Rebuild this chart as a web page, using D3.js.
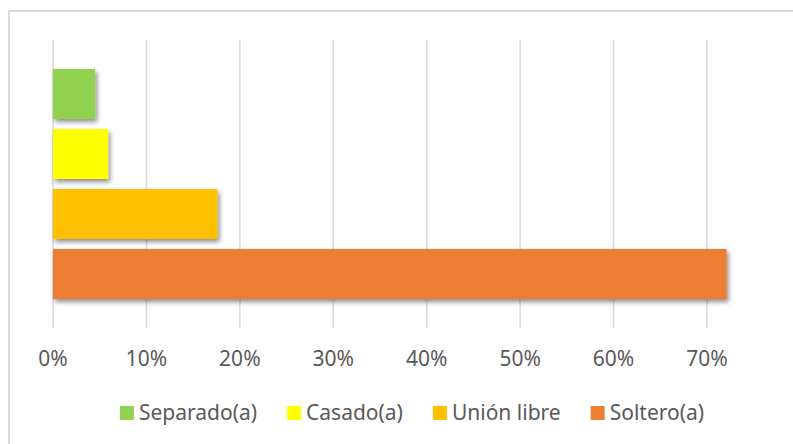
<!DOCTYPE html>
<html>
<head>
<meta charset="utf-8">
<script src="https://cdn.jsdelivr.net/npm/d3@7"></script>
<style>
  body { margin: 0; background: #fff; }
  text { font-family: "Noto Sans", "Open Sans", sans-serif; fill: #595959; }
</style>
</head>
<body>
<div id="chart"></div>
<script>
// series (top to bottom), values in percent
const categories = ["Separado(a)", "Casado(a)", "Unión libre", "Soltero(a)"]
const values = [4.5, 5.9, 17.6, 72.1]
const colors = ["#92d050", "#ffff00", "#ffc000", "#ed7d31"]
const x_ticks = [0, 10, 20, 30, 40, 50, 60, 70]

const width = 793
const height = 444

const svg = d3.select('#chart')
    .append('svg')
    .attr('width', width)
    .attr('height', height)

// drop shadow like the office chart
const defs = svg.append('defs')
defs.append('filter')
    .attr('id', 'shadow')
    .attr('x', '-10%').attr('y', '-20%')
    .attr('width', '130%').attr('height', '160%')
    .append('feDropShadow')
    .attr('dx', 2).attr('dy', 3)
    .attr('stdDeviation', 2.5)
    .attr('flood-color', '#000')
    .attr('flood-opacity', 0.45)

// chart border
svg.append('rect')
    .attr('x', 9).attr('y', 11)
    .attr('width', 800).attr('height', 450)
    .attr('fill', 'none')
    .attr('stroke', '#d9d9d9')
    .attr('stroke-width', 2)

const x = d3.scaleLinear()
    .domain([0, 70])
    .range([53, 707])

const y = d3.scaleBand()
    .domain(categories)
    .range([64, 304])
    .paddingInner(1 / 6)
    .paddingOuter(1 / 12)

const grid_top = 40
const grid_bottom = 328

svg.append('g')
    .selectAll('line')
    .data(x_ticks)
    .enter()
    .append('line')
    .attr('x1', d => x(d))
    .attr('x2', d => x(d))
    .attr('y1', grid_top)
    .attr('y2', grid_bottom)
    .attr('stroke', '#d9d9d9')
    .attr('stroke-width', 1.5)

svg.append('g')
    .selectAll('rect')
    .data(categories)
    .enter()
    .append('rect')
    .attr('x', x(0))
    .attr('y', d => y(d))
    .attr('width', (d, i) => x(values[i]) - x(0))
    .attr('height', y.bandwidth())
    .attr('fill', (d, i) => colors[i])
    .attr('filter', 'url(#shadow)')

svg.append('g')
    .selectAll('text')
    .data(x_ticks)
    .enter()
    .append('text')
    .attr('x', d => x(d))
    .attr('y', 366)
    .attr('text-anchor', 'middle')
    .attr('font-size', '21px')
    .text(d => d + '%')

// legend, centred under the plot
const legend = svg.append('g')
const items = legend.selectAll('g')
    .data(categories)
    .enter()
    .append('g')

items.append('rect')
    .attr('width', 14).attr('height', 14)
    .attr('y', 406)
    .attr('fill', (d, i) => colors[i])

items.append('text')
    .attr('y', 420)
    .attr('font-size', '21px')
    .text(d => d)

let cursor = 0
items.each(function () {
    const g = d3.select(this)
    const w = g.select('text').node().getComputedTextLength()
    g.attr('transform', `translate(${cursor} 0)`)
    g.select('text').attr('x', 19)
    cursor += 19 + w + 30
})
const total = cursor - 30
legend.attr('transform', `translate(${412 - total / 2} 0)`)
</script>
</body>
</html>
